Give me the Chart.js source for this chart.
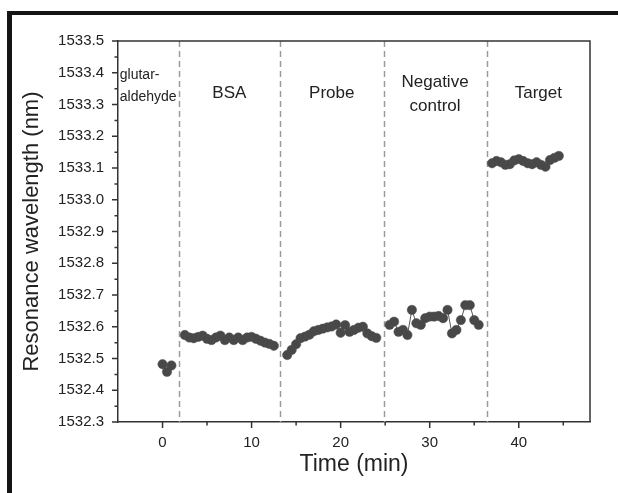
<!DOCTYPE html>
<html lang="en">
<head>
  <meta charset="UTF-8">
  <title>Resonance wavelength vs time</title>
  <script src="https://cdn.jsdelivr.net/npm/chart.js"></script>
  <style>
    body { margin: 0; background: #fff; }
    .moldura {
      position: absolute; left: 7px; top: 11px; width: 700px; height: 600px;
      border-left: 5px solid #151515; border-top: 4px solid #151515;
    }
    #grafico { position: absolute; left: 0; top: 0; }
  </style>
</head>
<body>
  <div class="moldura"></div>
  <canvas id="grafico" width="618" height="493"></canvas>

<script>
  // dados (tempo em min, comprimento de onda em nm)
  const glutTime = [0, 0.5, 1.0];
  const glutWl = [1532.482, 1532.458, 1532.478];

  const bsaTime = [2.5, 3.0, 3.5, 4.0, 4.5, 5.0, 5.5, 6.0, 6.5, 7.0, 7.5, 8.0, 8.5, 9.0, 9.5, 10.0, 10.5, 11.0, 11.5, 12.0, 12.5];
  const bsaWl = [1532.574, 1532.566, 1532.564, 1532.568, 1532.572, 1532.562, 1532.558, 1532.566, 1532.572, 1532.558, 1532.566,
                 1532.558, 1532.566, 1532.558, 1532.566, 1532.568, 1532.562, 1532.556, 1532.550, 1532.546, 1532.540];

  const probeTime = [14.0, 14.5, 15.0, 15.5, 16.0, 16.5, 17.0, 17.5, 18.0, 18.5, 19.0, 19.5, 20.0, 20.5, 21.0, 21.5, 22.0, 22.5, 23.0, 23.5, 24.0];
  const probeWl = [1532.511, 1532.527, 1532.545, 1532.564, 1532.569, 1532.575, 1532.586, 1532.590, 1532.594, 1532.598, 1532.601,
                   1532.607, 1532.581, 1532.605, 1532.584, 1532.590, 1532.597, 1532.600, 1532.579, 1532.570, 1532.565];

  const negTime = [25.5, 26.0, 26.5, 27.0, 27.5, 28.0, 28.5, 29.0, 29.5, 30.0, 30.5, 31.0, 31.5, 32.0, 32.5, 33.0, 33.5, 34.0, 34.5, 35.0, 35.5];
  const negWl = [1532.606, 1532.616, 1532.584, 1532.590, 1532.574, 1532.653, 1532.611, 1532.606, 1532.627, 1532.632, 1532.632,
                 1532.634, 1532.627, 1532.653, 1532.579, 1532.590, 1532.621, 1532.668, 1532.668, 1532.621, 1532.606];

  const targetTime = [37.0, 37.5, 38.0, 38.5, 39.0, 39.5, 40.0, 40.5, 41.0, 41.5, 42.0, 42.5, 43.0, 43.5, 44.0, 44.5];
  const targetWl = [1533.115, 1533.122, 1533.118, 1533.110, 1533.112, 1533.124, 1533.128, 1533.122, 1533.115, 1533.112,
                    1533.118, 1533.110, 1533.104, 1533.125, 1533.132, 1533.138];

  // divisoes entre as etapas (linhas tracejadas)
  const stageBounds = [1.8, 13.2, 24.9, 36.4];
  const stageNames = [['glutar-', 'aldehyde'], ['BSA'], ['Probe'], ['Negative', 'control'], ['Target']];

  const xTicks = [0, 10, 20, 30, 40];
  const yTicks = [1532.3, 1532.4, 1532.5, 1532.6, 1532.7, 1532.8, 1532.9, 1533.0, 1533.1, 1533.2, 1533.3, 1533.4, 1533.5];

  const fonte = '"Liberation Sans", Arial, sans-serif';
  const corTexto = '#222';
  const corEixo = '#333';

  function pares(xs, ys) {
    return xs.map(function (x, i) { return { x: x, y: ys[i] }; });
  }

  function serie(xs, ys) {
    return {
      data: pares(xs, ys),
      showLine: true,
      borderColor: '#555',
      borderWidth: 1,
      pointRadius: 4.7,
      pointBackgroundColor: '#484848',
      pointBorderColor: '#505050',
      pointBorderWidth: 0.5
    };
  }

  // posicoes dos rotulos das etapas (em unidades do grafico)
  const rotulos = [
    { x: -4.8, y: 1533.358, align: 'left', size: 14, gap: 22 },
    { x: 7.5, y: 1533.335, align: 'center', size: 17, gap: 24 },
    { x: 19.0, y: 1533.335, align: 'center', size: 17, gap: 24 },
    { x: 30.6, y: 1533.333, align: 'center', size: 17, gap: 24 },
    { x: 42.2, y: 1533.335, align: 'center', size: 17, gap: 24 }
  ];

  const extras = {
    id: 'extras',
    beforeDatasetsDraw: function (chart) {
      const ctx = chart.ctx, a = chart.chartArea, sx = chart.scales.x;
      ctx.save();
      ctx.strokeStyle = '#9a9a9a';
      ctx.lineWidth = 1.5;
      ctx.setLineDash([6, 4]);
      stageBounds.forEach(function (b) {
        const px = Math.round(sx.getPixelForValue(b)) + 0.5;
        ctx.beginPath();
        ctx.moveTo(px, a.top);
        ctx.lineTo(px, a.bottom);
        ctx.stroke();
      });
      ctx.restore();
    },
    afterDraw: function (chart) {
      const ctx = chart.ctx, a = chart.chartArea, sx = chart.scales.x, sy = chart.scales.y;
      ctx.save();
      ctx.strokeStyle = corEixo;
      ctx.lineWidth = 1.5;
      // moldura superior e direita
      ctx.beginPath();
      ctx.moveTo(a.left, a.top);
      ctx.lineTo(a.right, a.top);
      ctx.lineTo(a.right, a.bottom);
      ctx.stroke();
      // marcas dos eixos (maiores e menores)
      ctx.beginPath();
      xTicks.forEach(function (v) {
        const px = sx.getPixelForValue(v);
        ctx.moveTo(px, a.bottom); ctx.lineTo(px, a.bottom + 6);
        const m = sx.getPixelForValue(v + 5);
        ctx.moveTo(m, a.bottom); ctx.lineTo(m, a.bottom + 3.5);
      });
      yTicks.forEach(function (v, i) {
        const py = sy.getPixelForValue(v);
        ctx.moveTo(a.left, py); ctx.lineTo(a.left - 6, py);
        if (i < yTicks.length - 1) {
          const m = (py + sy.getPixelForValue(yTicks[i + 1])) / 2;
          ctx.moveTo(a.left, m); ctx.lineTo(a.left - 3.5, m);
        }
      });
      ctx.stroke();
      // rotulos das etapas
      ctx.fillStyle = corTexto;
      ctx.textBaseline = 'middle';
      rotulos.forEach(function (r, i) {
        const linhas = stageNames[i];
        ctx.font = r.size + 'px ' + fonte;
        ctx.textAlign = r.align;
        const px = sx.getPixelForValue(r.x);
        const py = sy.getPixelForValue(r.y) - (linhas.length - 1) * r.gap / 2;
        linhas.forEach(function (t, k) {
          ctx.fillText(t, px, py + k * r.gap);
        });
      });
      ctx.restore();
    }
  };

  const config = {
    type: 'scatter',
    data: {
      datasets: [
        serie(glutTime, glutWl),
        serie(bsaTime, bsaWl),
        serie(probeTime, probeWl),
        serie(negTime, negWl),
        serie(targetTime, targetWl)
      ]
    },
    options: {
      responsive: false,
      animation: false,
      devicePixelRatio: 1,
      layout: { padding: { left: 0, top: 41, right: 28, bottom: 0 } },
      plugins: { legend: { display: false }, tooltip: { enabled: false } },
      scales: {
        x: {
          type: 'linear', min: -5, max: 48,
          grid: { display: false, drawTicks: false },
          border: { color: corEixo, width: 1.5 },
          ticks: { font: { size: 15, family: fonte }, color: corTexto, padding: 12, autoSkip: false, maxRotation: 0 },
          afterBuildTicks: function (s) { s.ticks = xTicks.map(function (v) { return { value: v }; }); },
          afterFit: function (s) { s.height = 71; },
          title: { display: true, text: 'Time (min)', color: corTexto, font: { size: 23, family: fonte }, padding: { top: 0, bottom: 15 } }
        },
        y: {
          type: 'linear', min: 1532.3, max: 1533.5,
          grid: { display: false, drawTicks: false },
          border: { color: corEixo, width: 1.5 },
          ticks: {
            font: { size: 15, family: fonte }, color: corTexto, padding: 14, autoSkip: false,
            callback: function (v) { return Number(v).toFixed(1); }
          },
          afterBuildTicks: function (s) { s.ticks = yTicks.map(function (v) { return { value: v }; }); },
          afterFit: function (s) { s.width = 118; },
          title: { display: true, text: 'Resonance wavelength (nm)', color: corTexto, font: { size: 22, family: fonte }, padding: { top: 19, bottom: 0 } }
        }
      }
    },
    plugins: [extras]
  };

  new Chart(document.getElementById('grafico'), config);
</script>
</body>
</html>
